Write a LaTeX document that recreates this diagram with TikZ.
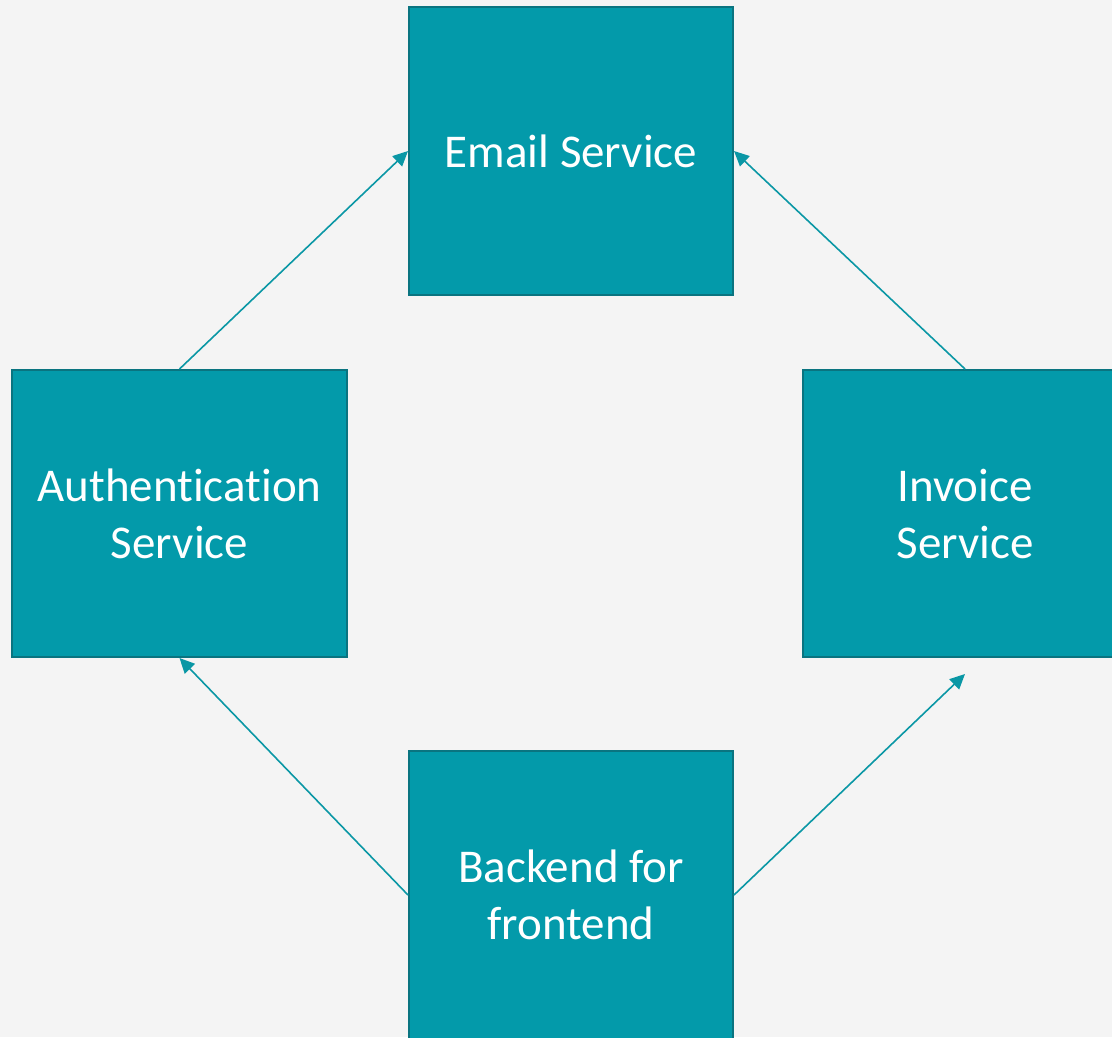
\documentclass[tikz,border=0pt]{standalone}
\usepackage{fontspec}
\setmainfont{Carlito}[Ligatures=NoCommon]
\usetikzlibrary{arrows.meta}
\definecolor{bgc}{HTML}{F4F4F4}
\definecolor{boxfill}{HTML}{039AAA}
\definecolor{boxline}{HTML}{0A7480}
\definecolor{arr}{HTML}{0A97A5}
\begin{document}
\begin{tikzpicture}[x=1pt,y=-1pt,
  svc/.style={draw=boxline,line width=2pt,fill=boxfill,text=white,
    minimum width=324pt,minimum height=288pt,inner sep=0pt,align=center,
    font=\fontsize{47}{57}\selectfont},
  conn/.style={draw=arr,line width=1.6pt,-{Triangle[length=15pt,width=14pt]}}]
\useasboundingbox (0,0) rectangle (1112,1037);
\fill[bgc] (0,0) rectangle (1112,1037);
\begin{scope}
\clip (0,0) rectangle (1112,1037);
\node[svc] (email) at (571,151) {Email Service};
\node[svc,minimum width=335pt,minimum height=287pt] (auth) at (179.5,513.5) {Authentication\\Service};
\node[svc,minimum height=287pt] (inv) at (965,513.5) {Invoice\\Service};
\node[svc] (bff) at (571,895) {Backend for\\frontend};
\coordinate (invb) at (965,674);
\draw[conn] (auth.north) -- (email.west);
\draw[conn] (inv.north) -- (email.east);
\draw[conn] (bff.west) -- (auth.south);
\draw[conn] (bff.east) -- (invb);
\end{scope}
\end{tikzpicture}
\end{document}
